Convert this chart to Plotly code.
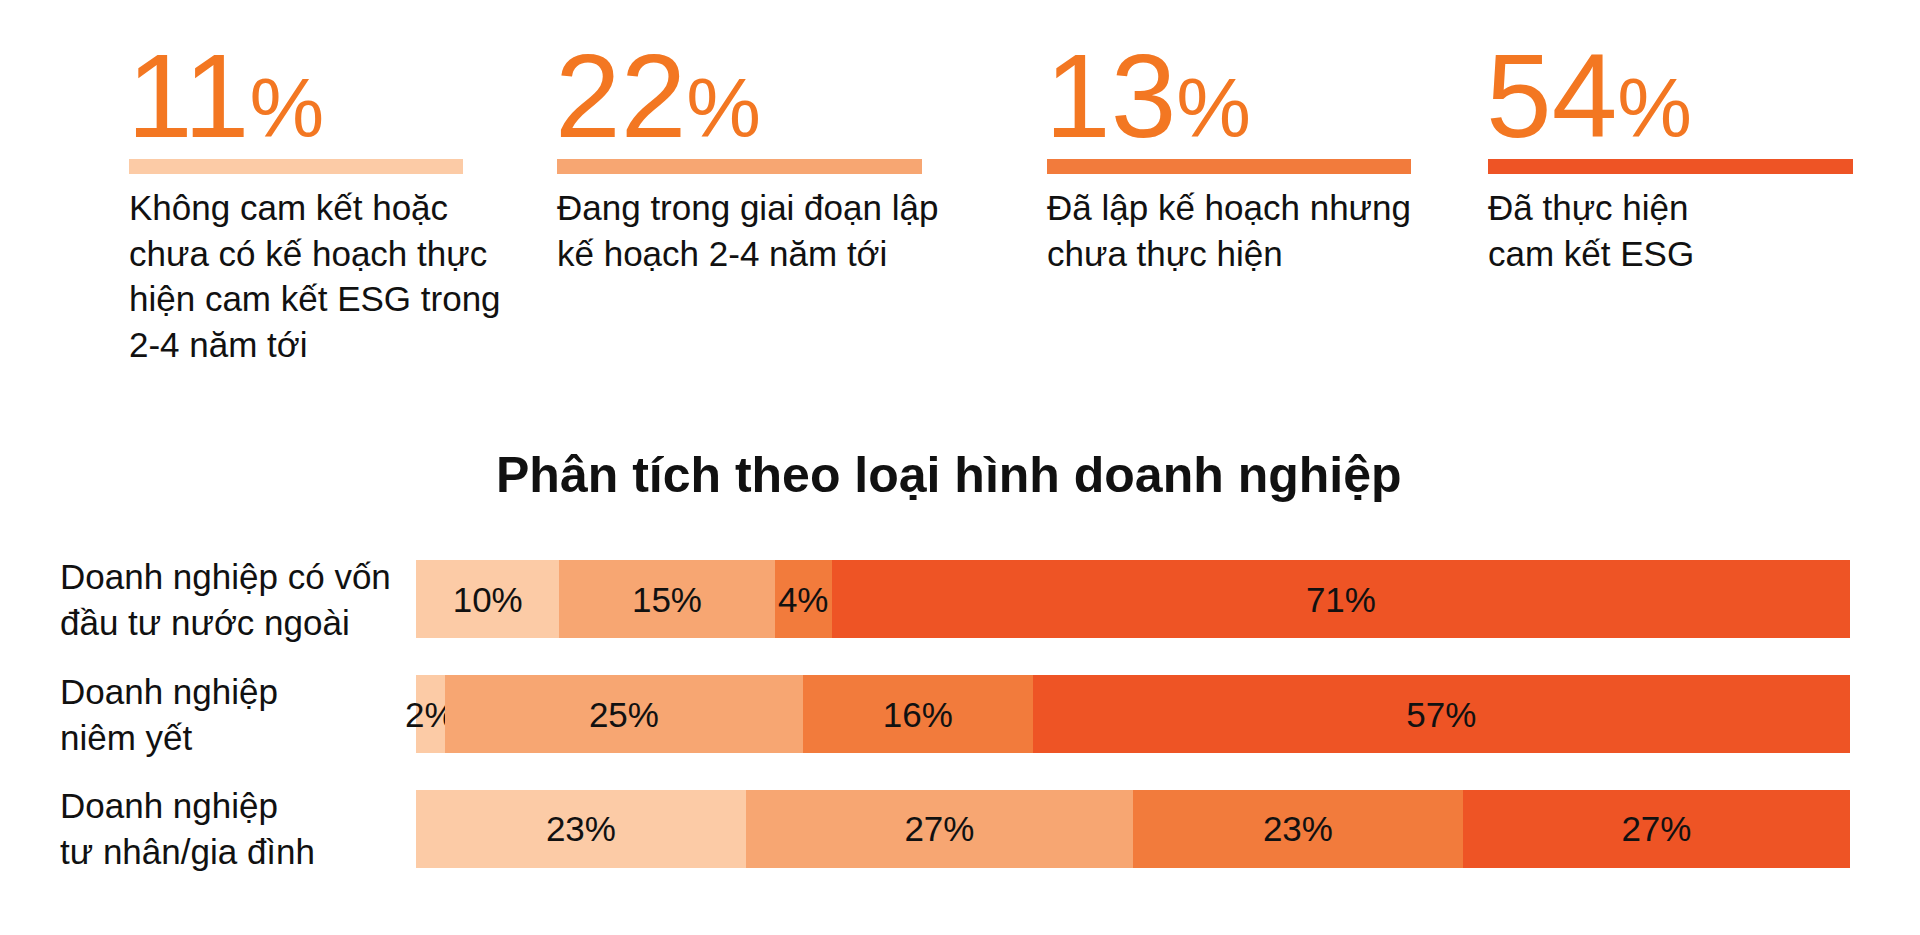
import plotly.graph_objects as go

# overall shares (top row of key figures)
overall = [11, 22, 13, 54]
overall_labels = [
    "Không cam kết hoặc<br>chưa có kế hoạch thực<br>hiện cam kết ESG trong<br>2-4 năm tới",
    "Đang trong giai đoạn lập<br>kế hoạch 2-4 năm tới",
    "Đã lập kế hoạch nhưng<br>chưa thực hiện",
    "Đã thực hiện<br>cam kết ESG",
]

# breakdown by company type
company_types = [
    "Doanh nghiệp có vốn<br>đầu tư nước ngoài",
    "Doanh nghiệp<br>niêm yết",
    "Doanh nghiệp<br>tư nhân/gia đình",
]
not_committed = [10, 2, 23]
planning = [15, 25, 27]
planned_not_done = [4, 16, 23]
done = [71, 57, 27]

colors = ["#FCCBA6", "#F7A672", "#F27B3C", "#EE5425"]
number_color = "#F37722"
text_color = "#111111"
FONT = "Liberation Sans, Arial, sans-serif"

# page geometry (pixels); the page body has an 8px margin, so shift everything back
W, H = 1920, 935
OFF = 8
L, R, T, B = 416 - OFF, 70 + OFF, 542 - OFF, 49 + OFF
plot_w = W - L - R
plot_h = H - T - B


def px_x(x):
    return (x - OFF - L) / plot_w


def px_y(y):
    return (H - B - (y - OFF)) / plot_h


fig = go.Figure()

series = [not_committed, planning, planned_not_done, done]
for i, vals in enumerate(series):
    fig.add_trace(go.Bar(
        y=company_types,
        x=vals,
        orientation="h",
        name=overall_labels[i].replace("<br>", " "),
        marker=dict(color=colors[i], line=dict(width=0)),
        text=[f"{v}%" for v in vals],
        textposition="inside",
        insidetextanchor="middle",
        textangle=0,
        constraintext="none",
        cliponaxis=False,
        textfont=dict(family=FONT, size=35, color=text_color),
        width=0.68,
        hoverinfo="skip",
    ))

# row labels, left aligned
for cat in company_types:
    fig.add_annotation(
        x=px_x(58), xref="paper", y=cat, yref="y",
        text=cat, showarrow=False, xanchor="left", yanchor="middle", align="left",
        font=dict(family=FONT, size=35, color=text_color),
    )

# key figures on top
kpi_left = [129, 557, 1047, 1488]
kpi_width = [334, 365, 364, 365]
for i, v in enumerate(overall):
    x0 = kpi_left[i]
    fig.add_annotation(
        x=px_x(x0 - 4), xref="paper", y=px_y(96), yref="paper",
        text=f"{v}<span style='font-size:84px'>%</span>",
        showarrow=False, xanchor="left", yanchor="middle",
        font=dict(family=FONT, size=118, color=number_color),
    )
    fig.add_shape(
        type="rect", xref="paper", yref="paper",
        x0=px_x(x0), x1=px_x(x0 + kpi_width[i]),
        y0=px_y(174), y1=px_y(159),
        fillcolor=colors[i], line=dict(width=0), layer="above",
    )
    fig.add_annotation(
        x=px_x(x0 - 2), xref="paper", y=px_y(186), yref="paper",
        text=overall_labels[i], showarrow=False,
        xanchor="left", yanchor="top", align="left",
        font=dict(family=FONT, size=35, color=text_color),
    )

fig.add_annotation(
    x=px_x(949), xref="paper", y=px_y(475), yref="paper",
    text="<b>Phân tích theo loại hình doanh nghiệp</b>",
    showarrow=False, xanchor="center", yanchor="middle",
    font=dict(family=FONT, size=50, color=text_color),
)

fig.update_layout(
    barmode="stack",
    width=W, height=H,
    margin=dict(l=L, r=R, t=T, b=B),
    paper_bgcolor="white",
    plot_bgcolor="white",
    showlegend=False,
    bargap=0.32,
    font=dict(family=FONT),
)
fig.update_xaxes(visible=False, range=[0, 100], fixedrange=True)
fig.update_yaxes(
    showticklabels=False, showgrid=False, zeroline=False, showline=False,
    categoryorder="array", categoryarray=company_types,
    range=[2.5, -0.5], fixedrange=True,
)

fig.write_html("out.html", config={"displayModeBar": False})
